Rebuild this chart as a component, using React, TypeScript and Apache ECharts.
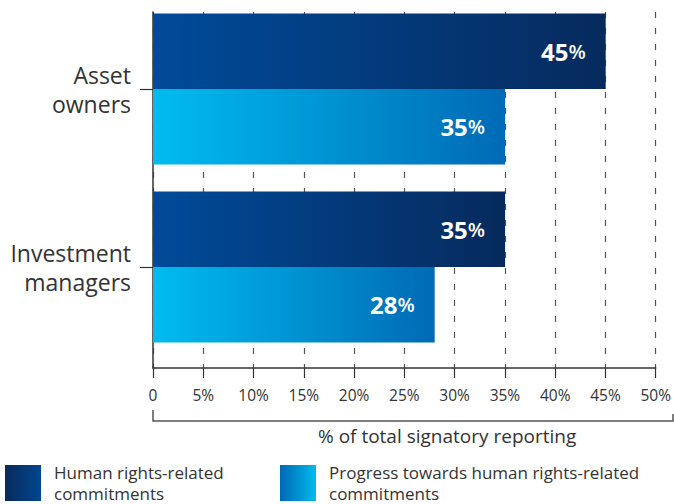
import React, { useEffect, useRef } from "react";
import * as echarts from "echarts";

const categories = ["Asset owners", "Investment managers"];
const categoryLines: Record<string, string> = {
  "Asset owners": "Asset\nowners",
  "Investment managers": "Investment\nmanagers",
};
const seriesNames = [
  "Human rights-related commitments",
  "Progress towards human rights-related commitments",
];
const legendLines: Record<string, string> = {
  "Human rights-related commitments": "Human rights-related\ncommitments",
  "Progress towards human rights-related commitments":
    "Progress towards human rights-related\ncommitments",
};
const commitments = [45, 35];
const progress = [35, 28];
const axisMin = 0;
const axisMax = 50;
const axisStep = 5;
const axisTitle = "% of total signatory reporting";

const FONT = "'Open Sans', 'Noto Sans', sans-serif";
const TEXT = "#333333";

const grad = (a: string, b: string) =>
  new echarts.graphic.LinearGradient(0, 0, 1, 0, [
    { offset: 0, color: a },
    { offset: 1, color: b },
  ]);

export default function App() {
  const ref = useRef<HTMLDivElement>(null);
  useEffect(() => {
    if (!ref.current) return;
    const chart = echarts.init(ref.current, undefined, { renderer: "svg" });
    const barLabel = {
      show: true,
      position: "insideRight",
      distance: 20,
      formatter: (p: any) => `{a|${p.value}}{b|%}`,
      rich: {
        a: { color: "#fff", fontSize: 24, fontWeight: "bold", fontFamily: FONT },
        b: { color: "#fff", fontSize: 20, fontWeight: 600, fontFamily: FONT },
      },
    };
    const legendCommon = {
      top: 462,
      padding: 0,
      itemWidth: 36,
      itemHeight: 36,
      icon: "rect",
      selectedMode: false,
      formatter: (n: string) => legendLines[n] || n,
      textStyle: {
        fontSize: 17,
        lineHeight: 21,
        color: TEXT,
        fontFamily: FONT,
        padding: [0, 0, 0, 8],
      },
    };
    chart.setOption({
      animation: false,
      textStyle: { fontFamily: FONT },
      grid: [
        { left: 153, right: 18, top: 12, height: 356 },
        { left: 153, right: 18, top: -1, height: 357 },
      ],
      xAxis: [
        {
          gridIndex: 0,
          type: "value",
          min: axisMin,
          max: axisMax,
          interval: axisStep,
          axisLine: { show: true, lineStyle: { color: TEXT, width: 1.5 } },
          axisTick: { show: true, length: 10, lineStyle: { color: TEXT, width: 1.2 } },
          axisLabel: {
            formatter: (v: number) => (v === 0 ? "0" : `${v}%`),
            fontSize: 15.5,
            color: TEXT,
            margin: 19,
            fontFamily: FONT,
          },
          splitLine: {
            show: true,
            lineStyle: { color: "#555", width: 1.2, type: [6, 10] },
          },
        },
        { gridIndex: 1, type: "value", min: axisMin, max: axisMax, show: false },
      ],
      yAxis: [
        {
          gridIndex: 0,
          type: "category",
          inverse: true,
          data: categories,
          axisLine: { show: true, lineStyle: { color: TEXT, width: 1.5 } },
          axisTick: { show: false },
          axisLabel: { show: false },
          splitLine: { show: false },
        },
        {
          gridIndex: 1,
          type: "category",
          inverse: true,
          data: categories,
          axisLine: { show: false },
          axisTick: {
            show: true,
            alignWithLabel: true,
            length: 13,
            lineStyle: { color: TEXT, width: 1.2 },
          },
          axisLabel: {
            formatter: (v: string) => categoryLines[v] || v,
            fontSize: 23,
            lineHeight: 29,
            color: TEXT,
            margin: 22,
            padding: [0, 0, 8, 0],
            fontFamily: FONT,
          },
          splitLine: { show: false },
        },
      ],
      legend: [
        {
          ...legendCommon,
          left: 5,
          data: [
            { name: seriesNames[0], itemStyle: { color: grad("#0a2a5c", "#00478f") } },
          ],
        },
        {
          ...legendCommon,
          left: 280,
          data: [
            { name: seriesNames[1], itemStyle: { color: grad("#0068b4", "#00bbec") } },
          ],
        },
      ],
      series: [
        {
          name: seriesNames[0],
          type: "bar",
          xAxisIndex: 1,
          yAxisIndex: 1,
          data: commitments,
          barWidth: 75.5,
          barGap: 0,
          itemStyle: { color: grad("#004b9a", "#062a5d") },
          label: barLabel,
        },
        {
          name: seriesNames[1],
          type: "bar",
          xAxisIndex: 1,
          yAxisIndex: 1,
          data: progress,
          barWidth: 75.5,
          barGap: 0,
          itemStyle: { color: grad("#00bcef", "#006ab6") },
          label: barLabel,
        },
      ],
      graphic: [
        {
          type: "polyline",
          shape: { points: [[153, 410], [153, 421], [673, 421], [673, 414]] },
          style: { stroke: "#555", lineWidth: 1.5, fill: null },
        },
        {
          type: "text",
          left: 318,
          top: 426,
          style: { text: axisTitle, fontSize: 19, fill: TEXT, fontFamily: FONT },
        },
      ],
    });
    return () => chart.dispose();
  }, []);
  return (
    <div
      ref={ref}
      style={{ position: "absolute", left: 0, top: 0, width: 674, height: 504 }}
    />
  );
}
